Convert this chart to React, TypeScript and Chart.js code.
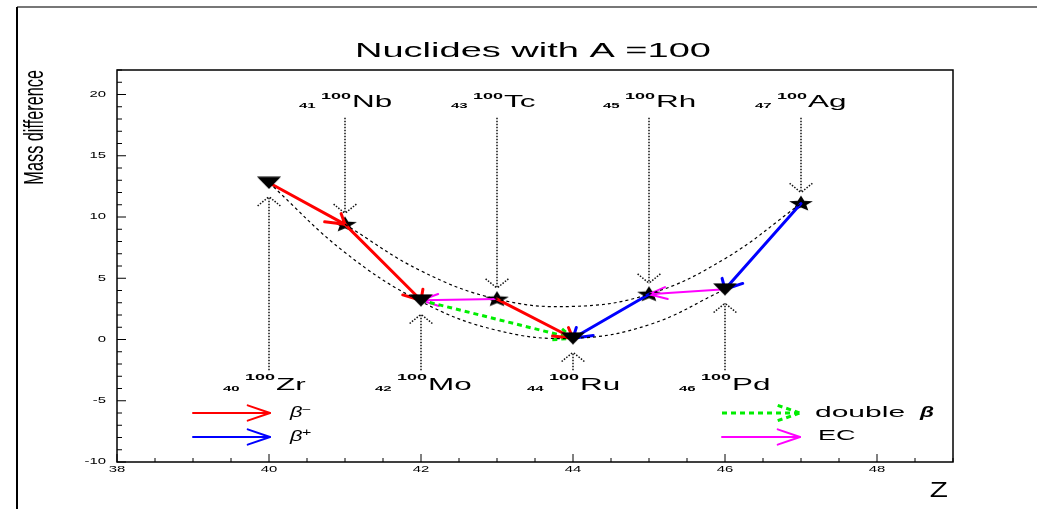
import React, { useEffect, useRef } from "react";
import { Chart, registerables } from "chart.js";
Chart.register(...registerables);

// ---------------- data ----------------
const TITLE = "Nuclides with A =100";
const Y_TITLE = "Mass difference";
const X_TITLE = "Z";
const MASS_A = "100";
const X_MIN = 38;
const X_MAX = 49;
const Y_MIN = -10;
const Y_MAX = 22;
const X_TICKS = [38, 40, 42, 44, 46, 48];
const Y_TICKS = [-10, -5, 0, 5, 10, 15, 20];

// even-even nuclides (triangles)
const EVEN_Z = [40, 42, 44, 46];
const EVEN_NAMES = ["Zr", "Mo", "Ru", "Pd"];
const EVEN_DM = [12.8, 3.2, 0.1, 4.1];
// odd-odd nuclides (stars)
const ODD_Z = [41, 43, 45, 47];
const ODD_NAMES = ["Nb", "Tc", "Rh", "Ag"];
const ODD_DM = [9.4, 3.3, 3.7, 11.1];

// dotted parabolas, values
const EVEN_CURVE_Z = [40, 41, 42, 43, 44, 45, 46];
const EVEN_CURVE_DM = [12.8, 7.1, 3.1, 0.75, 0.1, 1.2, 4.1];
const ODD_CURVE_Z = [41, 42, 43, 44, 45, 46, 47];
const ODD_CURVE_DM = [9.4, 5.6, 3.3, 2.7, 3.7, 6.6, 11.1];

// decays: [Z from, Z to]
const BETA_MINUS = [[40, 41], [41, 42], [43, 44]];
const BETA_PLUS = [[45, 44], [47, 46]];
const EC_DECAYS = [[43, 42], [46, 45]];
const DOUBLE_BETA = [[42, 44]];

// label anchors (data units)
const LABEL_TOP_DM = 19.0;
const LABEL_BOTTOM_DM = -4.1;
const ARROW_TOP_DM = 18.1;
const ARROW_BOTTOM_DM = -2.5;

// ---------------- helpers ----------------
const FONT = '"Liberation Sans", Arial, Helvetica, sans-serif';
const STRETCH = 1.9;

function dmOf(z: number): number {
  const i = EVEN_Z.indexOf(z);
  if (i >= 0) return EVEN_DM[i];
  return ODD_DM[ODD_Z.indexOf(z)];
}

function sText(
  ctx: CanvasRenderingContext2D,
  str: string,
  x: number,
  y: number,
  size: number,
  opts: any = {}
) {
  const { align = "left", baseline = "alphabetic", S = STRETCH, style = "", color = "#000" } = opts;
  ctx.save();
  ctx.translate(x, y);
  ctx.scale(S, 1);
  ctx.font = `${style} ${size}px ${FONT}`;
  ctx.fillStyle = color;
  ctx.textAlign = align;
  ctx.textBaseline = baseline;
  ctx.fillText(str, 0, 0);
  ctx.restore();
}

function arrowHeadPath(
  ctx: CanvasRenderingContext2D,
  x0: number,
  y0: number,
  x1: number,
  y1: number,
  L: number
) {
  const th = (33 * Math.PI) / 180;
  const ux = (x1 - x0) / STRETCH;
  const uy = y1 - y0;
  const len = Math.hypot(ux, uy) || 1;
  const bx = -ux / len;
  const by = -uy / len;
  for (const sg of [-1, 1]) {
    const c = Math.cos(sg * th);
    const s = Math.sin(sg * th);
    const ax = (bx * c - by * s) * L;
    const ay = (bx * s + by * c) * L;
    ctx.moveTo(x1 + ax * STRETCH, y1 + ay);
    ctx.lineTo(x1, y1);
  }
}

function drawArrow(
  ctx: CanvasRenderingContext2D,
  x0: number,
  y0: number,
  x1: number,
  y1: number,
  color: string,
  width: number,
  dash: number[],
  L: number
) {
  ctx.save();
  ctx.strokeStyle = color;
  ctx.lineWidth = width;
  ctx.setLineDash(dash);
  ctx.lineCap = dash.length ? "butt" : "round";
  ctx.lineJoin = "round";
  ctx.beginPath();
  ctx.moveTo(x0, y0);
  ctx.lineTo(x1, y1);
  ctx.stroke();
  ctx.beginPath();
  arrowHeadPath(ctx, x0, y0, x1, y1, L);
  ctx.stroke();
  ctx.restore();
}

function makeTriangle(): HTMLCanvasElement {
  const c = document.createElement("canvas");
  c.width = 24;
  c.height = 13;
  const g = c.getContext("2d")!;
  g.fillStyle = "#000";
  g.beginPath();
  g.moveTo(0, 0.5);
  g.lineTo(24, 0.5);
  g.lineTo(12, 12.8);
  g.closePath();
  g.fill();
  return c;
}

function makeStar(): HTMLCanvasElement {
  const c = document.createElement("canvas");
  c.width = 26;
  c.height = 17;
  const g = c.getContext("2d")!;
  g.fillStyle = "#000";
  g.beginPath();
  for (let k = 0; k < 10; k++) {
    const a = -Math.PI / 2 + (k * Math.PI) / 5;
    const r = k % 2 === 0 ? 1 : 0.45;
    const x = 13 + Math.cos(a) * r * 12.5;
    const y = 8.8 + Math.sin(a) * r * 8.2;
    if (k === 0) g.moveTo(x, y);
    else g.lineTo(x, y);
  }
  g.closePath();
  g.fill();
  return c;
}

function drawDecays(chart: any) {
  const ctx: CanvasRenderingContext2D = chart.ctx;
  const xs = chart.scales.x;
  const ys = chart.scales.y;
  const P = (z: number) => [xs.getPixelForValue(z), ys.getPixelForValue(dmOf(z))];
  const groups: [number[][], string, number, number[]][] = [
    [EC_DECAYS, "#ff00ff", 2, []],
    [DOUBLE_BETA, "#00ee00", 3, [5, 4]],
    [BETA_MINUS, "#ff0000", 3, []],
    [BETA_PLUS, "#0000ff", 3, []],
  ];
  for (const [list, color, w, dash] of groups) {
    for (const [a, b] of list) {
      const [x0, y0] = P(a);
      const [x1, y1] = P(b);
      drawArrow(ctx, x0, y0, x1, y1, color, w, dash, 11);
    }
  }
}

function drawLabels(chart: any) {
  const ctx: CanvasRenderingContext2D = chart.ctx;
  const xs = chart.scales.x;
  const ys = chart.scales.y;
  const topArrowY = ys.getPixelForValue(ARROW_TOP_DM);
  const botArrowY = ys.getPixelForValue(ARROW_BOTTOM_DM);
  const topLabY = ys.getPixelForValue(LABEL_TOP_DM);
  const botLabY = ys.getPixelForValue(LABEL_BOTTOM_DM);

  const label = (px: number, base: number, z: number, name: string, supOff: number) => {
    sText(ctx, String(z), px - 46, base + 1.5, 7.5, { S: 2.0, style: "bold" });
    sText(ctx, MASS_A, px - 24, base - supOff, 9.5, { S: 1.9, style: "bold" });
    sText(ctx, name, px + 7, base, 17, { S: 1.85 });
  };

  ODD_Z.forEach((z, i) => {
    const px = xs.getPixelForValue(z);
    const py = ys.getPixelForValue(ODD_DM[i]);
    drawArrow(ctx, px, topArrowY, px, py - 11, "#111", 1.5, [1.5, 1.5], 11);
    label(px, topLabY, z, ODD_NAMES[i], 8);
  });
  EVEN_Z.forEach((z, i) => {
    const px = xs.getPixelForValue(z);
    const py = ys.getPixelForValue(EVEN_DM[i]);
    drawArrow(ctx, px, botArrowY, px, py + 14, "#111", 1.5, [1.5, 1.5], 11);
    label(px, botLabY, z, EVEN_NAMES[i], 10);
  });
}

function drawFrame(chart: any) {
  const ctx: CanvasRenderingContext2D = chart.ctx;
  const { left, right, top, bottom } = chart.chartArea;
  const xs = chart.scales.x;
  const ys = chart.scales.y;
  ctx.save();
  ctx.strokeStyle = "#000";
  ctx.lineWidth = 1.5;
  ctx.setLineDash([]);
  ctx.strokeRect(left, top, right - left, bottom - top);
  ctx.beginPath();
  for (let v = X_MIN; v <= X_MAX + 1e-9; v += 0.5) {
    const px = xs.getPixelForValue(v);
    const major = X_TICKS.includes(v);
    ctx.moveTo(px, bottom);
    ctx.lineTo(px, bottom - (major ? 8 : 4));
  }
  for (let v = Y_MIN; v <= Y_MAX + 1e-9; v += 1) {
    const py = ys.getPixelForValue(v);
    const major = Y_TICKS.includes(v);
    ctx.moveTo(left, py);
    ctx.lineTo(left + (major ? 9 : 5), py);
  }
  ctx.lineWidth = 1;
  ctx.stroke();
  ctx.restore();

  X_TICKS.forEach((v) => {
    sText(ctx, String(v), xs.getPixelForValue(v), 470, 8.5, { align: "center", baseline: "middle", S: 1.75 });
  });
  Y_TICKS.forEach((v) => {
    sText(ctx, String(v), 106, ys.getPixelForValue(v), 8.5, { align: "right", baseline: "middle", S: 1.75 });
  });

  // titles
  sText(ctx, TITLE, 533, 57, 20, { align: "center", S: 1.9 });
  sText(ctx, X_TITLE, 948, 497, 22, { align: "right", S: 1.35 });
  ctx.save();
  ctx.translate(43, 70);
  ctx.rotate(-Math.PI / 2);
  ctx.scale(1, 1.75);
  ctx.font = `16.3px ${FONT}`;
  ctx.fillStyle = "#000";
  ctx.textAlign = "right";
  ctx.textBaseline = "alphabetic";
  ctx.fillText(Y_TITLE, 0, 0);
  ctx.restore();

  // legend
  drawArrow(ctx, 193, 413, 270, 413, "#ff0000", 2, [], 14);
  drawArrow(ctx, 193, 437, 270, 437, "#0000ff", 2, [], 14);
  drawArrow(ctx, 722, 413, 800, 413, "#00ee00", 3, [5, 4], 14);
  drawArrow(ctx, 722, 437, 800, 437, "#ff00ff", 2, [], 14);
  sText(ctx, "β", 290, 417, 15, { S: 1.45, style: "italic" });
  sText(ctx, "−", 302, 413, 10, { S: 1.6 });
  sText(ctx, "β", 290, 441, 15, { S: 1.45, style: "italic" });
  sText(ctx, "+", 302, 436, 10, { S: 1.6 });
  sText(ctx, "double", 815, 417, 15, { S: 2.0 });
  sText(ctx, "β", 920, 417, 15, { S: 1.5, style: "italic bold" });
  sText(ctx, "EC", 818, 440, 15, { S: 1.8 });

  // outer border
  ctx.save();
  ctx.lineWidth = 2;
  ctx.strokeStyle = "#777";
  ctx.beginPath();
  ctx.moveTo(17, 7);
  ctx.lineTo(1037, 7);
  ctx.stroke();
  ctx.strokeStyle = "#000";
  ctx.beginPath();
  ctx.moveTo(17, 7);
  ctx.lineTo(17, 509);
  ctx.stroke();
  ctx.restore();
}

export default function App() {
  const ref = useRef<HTMLCanvasElement | null>(null);
  useEffect(() => {
    document.body.style.margin = "0";
    document.body.style.overflow = "hidden";
    const canvas = ref.current!;
    const tri = makeTriangle();
    const star = makeStar();
    const deco = {
      id: "deco",
      beforeDatasetDraw(chart: any, args: any) {
        if (args.index === 2) drawDecays(chart);
      },
      afterDatasetsDraw(chart: any) {
        drawLabels(chart);
      },
      afterDraw(chart: any) {
        drawFrame(chart);
      },
    };
    const chart = new Chart(canvas, {
      type: "scatter",
      data: {
        datasets: [
          {
            label: "even-even",
            data: EVEN_CURVE_Z.map((z, i) => ({ x: z, y: EVEN_CURVE_DM[i] })),
            showLine: true,
            borderColor: "#000",
            borderWidth: 1.2,
            borderDash: [3, 3],
            pointRadius: 0,
            tension: 0.4,
            fill: false,
          },
          {
            label: "odd-odd",
            data: ODD_CURVE_Z.map((z, i) => ({ x: z, y: ODD_CURVE_DM[i] })),
            showLine: true,
            borderColor: "#000",
            borderWidth: 1.2,
            borderDash: [3, 3],
            pointRadius: 0,
            tension: 0.4,
            fill: false,
          },
          {
            label: "even nuclides",
            data: EVEN_Z.map((z, i) => ({ x: z, y: EVEN_DM[i] })),
            showLine: false,
            pointStyle: tri as any,
            pointRadius: 12,
          },
          {
            label: "odd nuclides",
            data: ODD_Z.map((z, i) => ({ x: z, y: ODD_DM[i] })),
            showLine: false,
            pointStyle: star as any,
            pointRadius: 12,
          },
        ],
      },
      options: {
        animation: false,
        responsive: false,
        devicePixelRatio: 1,
        layout: { padding: { left: 0, right: 84, top: 70, bottom: 0 } },
        plugins: {
          legend: { display: false },
          tooltip: { enabled: false },
          title: { display: false },
        },
        scales: {
          x: {
            type: "linear",
            min: X_MIN,
            max: X_MAX,
            grid: { display: false },
            border: { display: false },
            ticks: { display: false },
            afterFit: (s: any) => {
              s.height = 47;
            },
          },
          y: {
            type: "linear",
            min: Y_MIN,
            max: Y_MAX,
            grid: { display: false },
            border: { display: false },
            ticks: { display: false },
            afterFit: (s: any) => {
              s.width = 117;
            },
          },
        },
      },
      plugins: [deco],
    });
    return () => chart.destroy();
  }, []);
  return <canvas ref={ref} width={1037} height={509} style={{ display: "block", width: 1037, height: 509 }} />;
}
